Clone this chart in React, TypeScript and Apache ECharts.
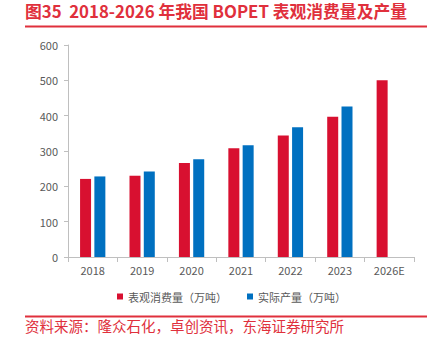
import React, { useEffect, useRef } from "react";
import * as echarts from "echarts";

const categories = ["2018", "2019", "2020", "2021", "2022", "2023", "2026E"];
const consumption = [221, 230, 266, 308, 344, 397, 500];
const production = [228, 242, 277, 316, 367, 426, null];
const seriesNames = ["表观消费量（万吨）", "实际产量（万吨）"];
const titleText = "图35  2018-2026 年我国 BOPET 表观消费量及产量";
const sourceText = "资料来源：隆众石化，卓创资讯，东海证券研究所";

const FONT = "'Noto Sans CJK SC', 'Noto Sans', sans-serif";

export default function App() {
  const ref = useRef<HTMLDivElement>(null);
  useEffect(() => {
    if (!ref.current) return;
    const chart = echarts.init(ref.current, null, { renderer: "svg" });
    chart.setOption({
      animation: false,
      backgroundColor: "#ffffff",
      textStyle: { fontFamily: FONT },
      grid: { left: 68, right: 30, top: 45, bottom: 84 },
      legend: {
        data: seriesNames,
        top: 286,
        left: 112,
        itemWidth: 6,
        itemHeight: 6,
        itemGap: 20,
        icon: "rect",
        textStyle: { fontSize: 11, color: "#595959", fontFamily: FONT },
      },
      xAxis: {
        type: "category",
        data: categories,
        axisLine: { lineStyle: { color: "#BFBFBF" } },
        axisTick: { show: true, alignWithLabel: false, lineStyle: { color: "#BFBFBF" } },
        axisLabel: { fontSize: 11, color: "#595959", margin: 7 },
      },
      yAxis: {
        type: "value",
        min: 0,
        max: 600,
        interval: 100,
        axisLine: { show: true, lineStyle: { color: "#BFBFBF" } },
        axisTick: { show: true, inside: false, length: 4, lineStyle: { color: "#BFBFBF" } },
        splitLine: { show: false },
        axisLabel: { fontSize: 11, color: "#595959", margin: 10 },
      },
      series: [
        {
          name: seriesNames[0],
          type: "bar",
          data: consumption,
          barWidth: 11,
          barGap: "30%",
          itemStyle: { color: "#D81030" },
        },
        {
          name: seriesNames[1],
          type: "bar",
          data: production,
          barWidth: 11,
          itemStyle: { color: "#0070C0" },
        },
      ],
      graphic: [
        {
          type: "text",
          left: 25,
          top: 3,
          style: {
            text: titleText,
            fontSize: 16.8,
            fontWeight: "bold",
            fill: "#E0303C",
            fontFamily: FONT,
          },
        },
        {
          type: "rect",
          shape: { x: 25, y: 25.5, width: 402, height: 2 },
          style: { fill: "#E0303C" },
        },
        {
          type: "rect",
          shape: { x: 25, y: 315.5, width: 402, height: 2 },
          style: { fill: "#E0303C" },
        },
        {
          type: "text",
          left: 25,
          top: 318,
          style: {
            text: sourceText,
            fontSize: 14.5,
            fill: "#E0303C",
            fontFamily: FONT,
          },
        },
      ],
    });
    return () => chart.dispose();
  }, []);
  return <div ref={ref} style={{ width: 444, height: 341, position: "absolute", left: 0, top: 0 }} />;
}
